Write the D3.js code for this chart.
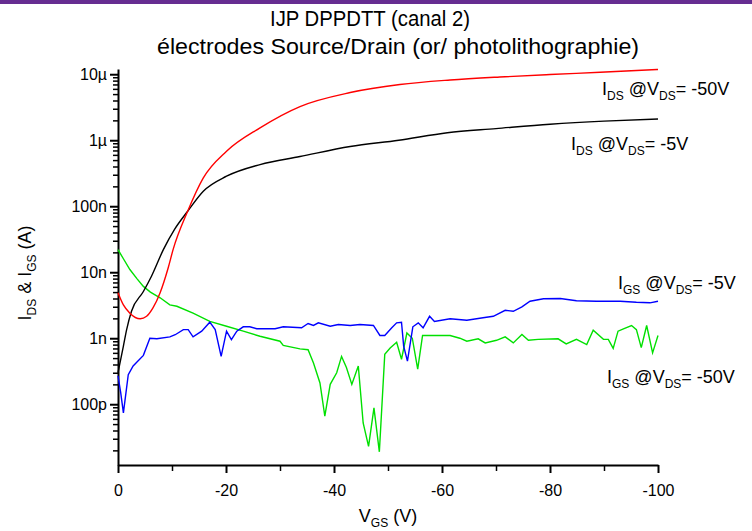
<!DOCTYPE html>
<html>
<head>
<meta charset="utf-8">
<script src="https://cdn.jsdelivr.net/npm/d3@7"></script>
<style>
  body { margin: 0; background: #fff; }
  text { font-family: "Liberation Sans", Arial, sans-serif; }
</style>
</head>
<body>
<div id="chart"></div>
<script>
// I_DS @ V_DS = -50V (red)
const redV = [0, -1, -2.2, -4.1, -5.3, -6.5, -7.8, -9.3, -10.2, -12.9, -15.8, -20.1, -26.3, -33.7, -43, -52.2, -61.5, -70.7, -80, -89.3, -100];
const redI = [4.9e-9, 3.2e-9, 2.4e-9, 1.97e-9, 2.15e-9, 2.9e-9, 4.9e-9, 1.17e-8, 2.2e-8, 8.4e-8, 2.69e-7, 6.81e-7, 1.54e-6, 3.24e-6, 5.28e-6, 6.98e-6, 8.17e-6, 9.08e-6, 9.9e-6, 1.07e-5, 1.18e-5];

// I_DS @ V_DS = -5V (black)
const blackV = [0, -1, -1.6, -2.5, -4.7, -6.2, -8.4, -10.5, -12.9, -15.8, -20.1, -26.3, -33.7, -43, -52, -61, -70, -80, -90, -100];
const blackI = [3.0e-10, 7.6e-10, 1.35e-9, 2.56e-9, 5.1e-9, 8.7e-9, 2.2e-8, 4.5e-8, 8.4e-8, 1.69e-7, 2.85e-7, 4.28e-7, 5.66e-7, 8.03e-7, 1.0e-6, 1.3e-6, 1.5e-6, 1.75e-6, 1.95e-6, 2.1e-6];

// I_GS @ V_DS = -50V (green), values in nA
const greenV = [0, -1, -2.2, -3.5, -4.7, -6, -7.8, -9.6, -10.9, -13.9, -17, -20.1, -23.2, -26.3, -30, -30.6, -33.7, -35.2, -36.2, -37.4, -38.3, -39.3, -40.5, -41.4, -42.3, -43.3, -44.5, -45.4, -46.4, -47.4, -48.4, -49.4, -50.4, -51.6, -52.5, -53.5, -54.5, -55.5, -56.4, -61.5, -63.3, -64.6, -66.7, -68, -70.1, -71.7, -73.2, -74.8, -76, -77.8, -81.5, -83, -84.9, -86.8, -88, -89.9, -90.8, -91.7, -92.6, -93.6, -95.1, -96, -96.9, -97.9, -99, -100];
const greenI = [22, 16, 11, 8, 6.1, 5, 4.1, 3.2, 3.05, 2.4, 1.8, 1.52, 1.28, 1.07, 0.9, 0.78, 0.69, 0.67, 0.42, 0.21, 0.066, 0.2, 0.3, 0.53, 0.36, 0.2, 0.38, 0.052, 0.023, 0.088, 0.019, 0.57, 0.71, 0.87, 0.48, 1.2, 1.0, 0.34, 1.1, 1.1, 1.0, 0.9, 0.98, 0.85, 0.93, 1.05, 0.85, 1.14, 0.93, 0.96, 0.98, 0.82, 0.96, 0.8, 1.32, 0.96, 0.96, 0.7, 1.28, 1.39, 1.56, 1.35, 0.72, 1.56, 0.6, 1.1];

// I_GS @ V_DS = -5V (blue), values in nA
const blueV = [0, -0.5, -1, -1.9, -2.8, -4.7, -5.9, -7.2, -9.6, -10.6, -12.1, -13, -13.9, -15.5, -17, -18, -19.1, -20.1, -21, -22, -23.2, -24.4, -25.7, -29.1, -30.6, -34, -35.2, -36.2, -37.1, -39.3, -40.8, -43, -44.8, -47.3, -48.5, -49.4, -50.7, -51.6, -52.5, -52.9, -53.6, -54.6, -55.6, -56.5, -57.7, -58.6, -61.5, -64.6, -67.6, -69.5, -71.7, -73.2, -74.8, -76.3, -78.8, -81.9, -84.9, -88.6, -93, -96, -98.5, -100];
const blueI = [0.27, 0.15, 0.074, 0.28, 0.38, 0.55, 1.0, 0.98, 1.05, 1.13, 1.35, 1.35, 1.05, 1.28, 1.75, 1.35, 0.53, 1.28, 0.95, 1.28, 1.49, 1.49, 1.39, 1.39, 1.49, 1.44, 1.67, 1.56, 1.71, 1.52, 1.61, 1.56, 1.61, 1.56, 1.1, 1.1, 1.44, 1.71, 1.75, 0.76, 0.45, 1.49, 1.71, 1.44, 2.15, 1.8, 1.97, 1.87, 2.04, 2.15, 2.65, 2.56, 2.99, 3.64, 3.96, 4.0, 3.7, 3.64, 3.64, 3.5, 3.44, 3.64];

const xTicks = [0, -20, -40, -60, -80, -100];
const xMinor = [-10, -30, -50, -70, -90];
const yTicks = [1e-10, 1e-9, 1e-8, 1e-7, 1e-6, 1e-5];
const yTickLabels = ["100p", "1n", "10n", "100n", "1µ", "10µ"];

const W = 752, H = 531;
const svg = d3.select("#chart").append("svg").attr("width", W).attr("height", H);

// purple band at top
svg.append("rect").attr("x", 0).attr("y", 0).attr("width", W).attr("height", 4).attr("fill", "#662d91");

// scales
let x = d3.scaleLinear().domain([0, -100]).range([118, 658]);
let y = d3.scaleLog().domain([1.2e-11, 1.2e-5]).range([465, 69]);

// title
svg.append("text").attr("x", 370).attr("y", 26).attr("text-anchor", "middle")
    .style("font-size", "22px").attr("textLength", 200).attr("lengthAdjust", "spacingAndGlyphs")
    .text("IJP DPPDTT (canal 2)");
svg.append("text").attr("x", 398).attr("y", 54).attr("text-anchor", "middle")
    .style("font-size", "22px").attr("textLength", 482).attr("lengthAdjust", "spacingAndGlyphs")
    .text("électrodes Source/Drain (or/ photolithographie)");

// minor ticks
let minorY = [];
for (let e = -11; e <= -5; e++) {
    for (let m = 2; m <= 9; m++) {
        let v = m * Math.pow(10, e);
        if (v >= 1.2e-11 && v <= 1.2e-5) minorY.push(v);
    }
}
svg.append("g").attr("transform", "translate(118,0)")
    .call(d3.axisLeft(y).tickValues(minorY).tickSize(5).tickFormat(""))
    .call(g => g.select(".domain").remove())
    .selectAll("line").attr("stroke-width", 1.5);
svg.append("g").attr("transform", "translate(0,465)")
    .call(d3.axisBottom(x).tickValues(xMinor).tickSize(6).tickFormat(""))
    .call(g => g.select(".domain").remove())
    .selectAll("line").attr("stroke-width", 1.5);

// main axes
let yAxis = svg.append("g").attr("transform", "translate(118,0)")
    .call(d3.axisLeft(y).tickValues(yTicks).tickSize(8).tickSizeOuter(0)
        .tickFormat((d, i) => yTickLabels[i]));
yAxis.select(".domain").attr("stroke-width", 2);
yAxis.selectAll(".tick line").attr("stroke-width", 2);
yAxis.selectAll(".tick text").style("font-size", "16px").attr("fill", "#000").attr("x", -11).attr("dy", "0.35em");

let xAxis = svg.append("g").attr("transform", "translate(0,465)")
    .call(d3.axisBottom(x).tickValues(xTicks).tickSize(8).tickSizeOuter(0)
        .tickFormat(d => String(d)));
xAxis.select(".domain").attr("stroke-width", 2);
xAxis.selectAll(".tick line").attr("stroke-width", 2);
xAxis.selectAll(".tick text").style("font-size", "16px").attr("fill", "#000").attr("y", 20);

// curves
function drawLine(vs, is, scale, color, curve) {
    let pts = vs.map((v, i) => [v, is[i] * scale]);
    svg.append("path").datum(pts)
        .attr("fill", "none").attr("stroke", color).attr("stroke-width", 1.4)
        .attr("d", d3.line().x(d => x(d[0])).y(d => y(d[1])).curve(curve));
}
drawLine(greenV, greenI, 1e-9, "#00e000", d3.curveLinear);
drawLine(blueV, blueI, 1e-9, "#0000ff", d3.curveLinear);
drawLine(blackV, blackI, 1, "#000000", d3.curveMonotoneX);
drawLine(redV, redI, 1, "#ff0000", d3.curveMonotoneX);

// labels with subscripts
function label(xp, yp, parts, anchor, rotate) {
    let t = svg.append("text").attr("x", xp).attr("y", yp)
        .attr("text-anchor", anchor || "start").style("font-size", "18px").style("white-space", "pre");
    if (rotate) t.attr("transform", `rotate(-90,${xp},${yp})`);
    parts.forEach(p => {
        let ts = t.append("tspan").text(p[0]);
        if (p[1]) ts.style("font-size", "12px").attr("dy", 5);
        else if (p[2]) ts.attr("dy", -5);
    });
    return t;
}
label(602, 95, [["I"], ["DS", 1], [" @V", 0, 1], ["DS", 1], ["= -50V", 0, 1]]);
label(571, 150, [["I"], ["DS", 1], [" @V", 0, 1], ["DS", 1], ["= -5V", 0, 1]]);
label(618, 289, [["I"], ["GS", 1], [" @V", 0, 1], ["DS", 1], ["= -5V", 0, 1]]);
label(607, 383, [["I"], ["GS", 1], [" @V", 0, 1], ["DS", 1], ["= -50V", 0, 1]]);

label(388, 522, [["V"], ["GS", 1], [" (V)", 0, 1]], "middle");
label(31, 273, [["I"], ["DS", 1], [" & I", 0, 1], ["GS", 1], [" (A)", 0, 1]], "middle", true);
</script>
</body>
</html>
